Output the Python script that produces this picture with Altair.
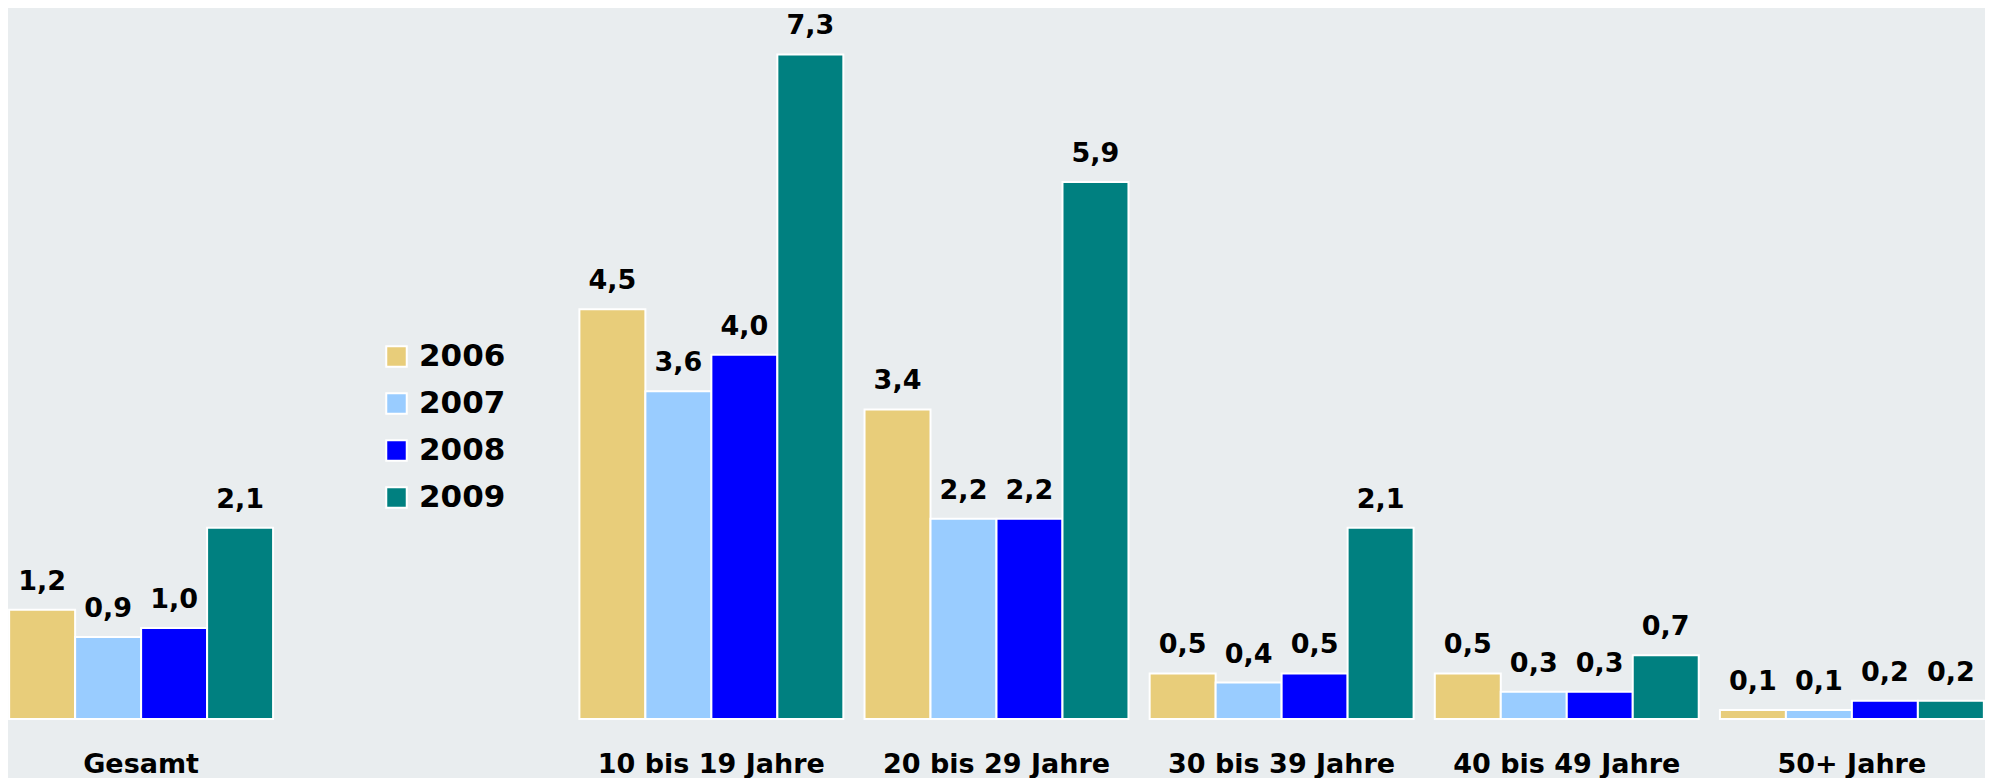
import altair as alt
import pandas as pd

categories = ["Gesamt", " ", "10 bis 19 Jahre", "20 bis 29 Jahre", "30 bis 39 Jahre", "40 bis 49 Jahre", "50+ Jahre"]
years = ["2006", "2007", "2008", "2009"]
colors = ["#E8CD7A", "#99CCFF", "#0000FF", "#008080"]

groups = ["Gesamt", "10 bis 19 Jahre", "20 bis 29 Jahre", "30 bis 39 Jahre", "40 bis 49 Jahre", "50+ Jahre"]
v2006 = [1.2, 4.5, 3.4, 0.5, 0.5, 0.1]
v2007 = [0.9, 3.6, 2.2, 0.4, 0.3, 0.1]
v2008 = [1.0, 4.0, 2.2, 0.5, 0.3, 0.2]
v2009 = [2.1, 7.3, 5.9, 2.1, 0.7, 0.2]

rows = []
for yr, vals in zip(years, [v2006, v2007, v2008, v2009]):
    for g, v in zip(groups, vals):
        rows.append({"Gruppe": g, "Jahr": yr, "Wert": v, "Label": f"{v:.1f}".replace(".", ",")})
df = pd.DataFrame(rows)

FONT = "DejaVu Sans"

x_enc = alt.X("Gruppe:N", sort=categories,
              scale=alt.Scale(domain=categories, paddingInner=0.0743, paddingOuter=0.004),
              axis=alt.Axis(title=None, domain=False, ticks=False, tickSize=0, labelAngle=0,
                            labelFont=FONT, labelFontWeight="bold", labelFontSize=27,
                            labelColor="black", labelBaseline="alphabetic", labelPadding=53,
                            labelLimit=0, grid=False))
xo_enc = alt.XOffset("Jahr:N", sort=years, scale=alt.Scale(paddingInner=0, paddingOuter=0))
y_enc = alt.Y("Wert:Q", scale=alt.Scale(domain=[0, 7.81], nice=False, zero=True), axis=None)

bars = alt.Chart(df).mark_bar(stroke="white", strokeWidth=2).encode(
    x=x_enc,
    xOffset=xo_enc,
    y=y_enc,
    color=alt.Color("Jahr:N", sort=years,
                    scale=alt.Scale(domain=years, range=colors),
                    legend=alt.Legend(title=None, orient="none", legendX=373, legendY=333,
                                      symbolType="square", symbolSize=420,
                                      symbolStrokeColor="white", symbolStrokeWidth=2,
                                      labelFont=FONT, labelFontWeight="bold", labelFontSize=31,
                                      labelColor="black", labelOffset=7, rowPadding=15)),
)

labels = alt.Chart(df).mark_text(font=FONT, fontWeight="bold", fontSize=27, color="black",
                                 baseline="alphabetic", dy=-20).encode(
    x=alt.X("Gruppe:N", sort=categories),
    xOffset=alt.XOffset("Jahr:N", sort=years),
    y=alt.Y("Wert:Q"),
    text="Label:N",
)

chart = alt.layer(bars, labels).properties(
    width=1977, height=711,
    autosize=alt.AutoSizeParams(type="none"),
    padding={"left": 0, "top": 0, "right": 0, "bottom": 59},
    background="#E9EDEF",
).configure_view(stroke=None)

chart.save("out.html", embed_options={"renderer": "svg", "actions": False})
